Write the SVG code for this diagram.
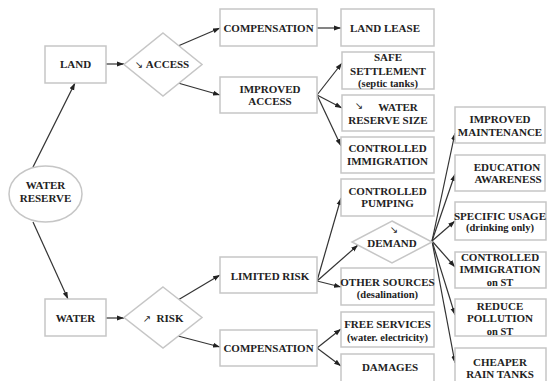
<svg xmlns="http://www.w3.org/2000/svg" width="548" height="381" viewBox="0 0 548 381">
<defs>
<marker id="ah" markerUnits="userSpaceOnUse" markerWidth="8" markerHeight="6" refX="7" refY="3" orient="auto">
<path d="M0,0.5 L7,3 L0,5.5 Z" fill="#222"/>
</marker>
<style>
.b{fill:#fff;stroke:#c6c6c6;stroke-width:1.5}
.t{font-family:"Liberation Serif","Times New Roman",serif;font-weight:bold;font-size:11px;fill:#222;text-anchor:middle}
.s{font-size:10.5px}
.ar{font-family:"DejaVu Sans",sans-serif;font-weight:normal;font-size:10px;fill:#222;text-anchor:middle}
.c line{stroke:#333;stroke-width:1.2;marker-end:url(#ah)}
</style>
</defs>
<rect width="548" height="381" fill="#fff"/>
<g class="c" id="connectors">
<line x1="33" y1="167" x2="75" y2="83"/>
<line x1="33" y1="222" x2="68" y2="299"/>
<line x1="106" y1="64" x2="124" y2="64"/>
<line x1="178" y1="46" x2="220" y2="28"/>
<line x1="178" y1="83" x2="220" y2="95"/>
<line x1="317" y1="28" x2="341" y2="28"/>
<line x1="317" y1="95" x2="342" y2="63"/>
<line x1="317" y1="95" x2="342" y2="108"/>
<line x1="317" y1="95" x2="341" y2="146"/>
<line x1="106" y1="318" x2="124" y2="318"/>
<line x1="178" y1="300" x2="220" y2="275"/>
<line x1="178" y1="336" x2="220" y2="347"/>
<line x1="317" y1="281" x2="341" y2="198"/>
<line x1="317" y1="281" x2="358" y2="245"/>
<line x1="317" y1="281" x2="341" y2="287"/>
<line x1="317" y1="348" x2="341" y2="329"/>
<line x1="317" y1="348" x2="341" y2="366"/>
<line x1="432" y1="241" x2="455" y2="133"/>
<line x1="432" y1="241" x2="455" y2="174"/>
<line x1="432" y1="241" x2="455" y2="221"/>
<line x1="432" y1="241" x2="455" y2="267"/>
<line x1="432" y1="241" x2="455" y2="315"/>
<line x1="432" y1="241" x2="455" y2="363"/>
</g>
<g id="water-reserve"><ellipse class="b" cx="45.5" cy="194" rx="36.5" ry="28"/><text class="t" x="45.5" y="189">WATER</text><text class="t" x="45.5" y="202">RESERVE</text></g>
<g id="land"><rect class="b" x="45" y="46" width="61" height="37"/><text class="t" x="75.5" y="68">LAND</text></g>
<g id="access"><path class="b" d="M163,33 L202,64.5 L163,96 L124,64.5 Z"/><text class="ar" x="139" y="68">↘</text><text class="t" x="167.5" y="68">ACCESS</text></g>
<g id="compensation-1"><rect class="b" x="220" y="9" width="97" height="37"/><text class="t" x="268.5" y="32">COMPENSATION</text></g>
<g id="land-lease"><rect class="b" x="341" y="9" width="93" height="37"/><text class="t" x="385" y="32">LAND LEASE</text></g>
<g id="improved-access"><rect class="b" x="220" y="77" width="97" height="36"/><text class="t" x="270" y="93">IMPROVED</text><text class="t" x="270" y="105">ACCESS</text></g>
<g id="safe-settlement"><rect class="b" x="342" y="52" width="92" height="37"/><text class="t" x="388" y="61">SAFE</text><text class="t" x="388" y="75">SETTLEMENT</text><text class="t s" x="388" y="87">(septic tanks)</text></g>
<g id="water-reserve-size"><rect class="b" x="342" y="95" width="92" height="36"/><text class="ar" x="359" y="109">↘</text><text class="t" x="398" y="111">WATER</text><text class="t" x="388" y="123.5">RESERVE SIZE</text></g>
<g id="controlled-immigration"><rect class="b" x="341" y="137" width="93" height="36"/><text class="t" x="387.5" y="152">CONTROLLED</text><text class="t" x="387.5" y="165">IMMIGRATION</text></g>
<g id="controlled-pumping"><rect class="b" x="341" y="179" width="93" height="37"/><text class="t" x="387.5" y="195">CONTROLLED</text><text class="t" x="387.5" y="207">PUMPING</text></g>
<g id="demand"><path class="b" d="M392,221 L432,242 L392,263 L352,242 Z"/><text class="ar" x="394" y="233">↘</text><text class="t" x="392" y="247">DEMAND</text></g>
<g id="other-sources"><rect class="b" x="341" y="268" width="93" height="37"/><text class="t" x="387.5" y="286">OTHER SOURCES</text><text class="t s" x="387.5" y="298">(desalination)</text></g>
<g id="free-services"><rect class="b" x="341" y="312" width="93" height="35"/><text class="t" x="387.5" y="328">FREE SERVICES</text><text class="t s" x="387.5" y="341">(water. electricity)</text></g>
<g id="damages"><rect class="b" x="341" y="354" width="93" height="40"/><text class="t" x="390" y="371">DAMAGES</text></g>
<g id="water"><rect class="b" x="45" y="299" width="61" height="37"/><text class="t" x="75.5" y="322">WATER</text></g>
<g id="risk"><path class="b" d="M163,287 L202,317.5 L163,348 L124,317.5 Z"/><text class="ar" x="147" y="322">↗</text><text class="t" x="170" y="322">RISK</text></g>
<g id="limited-risk"><rect class="b" x="220" y="257" width="97" height="36"/><text class="t" x="270" y="280">LIMITED RISK</text></g>
<g id="compensation-2"><rect class="b" x="220" y="330" width="97" height="36"/><text class="t" x="268.5" y="352">COMPENSATION</text></g>
<g id="improved-maintenance"><rect class="b" x="455" y="107" width="90" height="36"/><text class="t" x="500" y="123">IMPROVED</text><text class="t" x="500" y="136">MAINTENANCE</text></g>
<g id="education-awareness"><rect class="b" x="455" y="155" width="90" height="36"/><text class="t" x="507" y="171">EDUCATION</text><text class="t" x="508" y="183">AWARENESS</text></g>
<g id="specific-usage"><rect class="b" x="455" y="202" width="91" height="38"/><text class="t" x="500" y="220">SPECIFIC USAGE</text><text class="t s" x="500" y="231">(drinking only)</text></g>
<g id="controlled-immigration-st"><rect class="b" x="455" y="252" width="91" height="36"/><text class="t" x="500" y="261">CONTROLLED</text><text class="t" x="500" y="273">IMMIGRATION</text><text class="t s" x="500" y="286">on ST</text></g>
<g id="reduce-pollution"><rect class="b" x="455" y="299" width="91" height="37"/><text class="t" x="500" y="310">REDUCE</text><text class="t" x="500" y="322">POLLUTION</text><text class="t s" x="500" y="335">on ST</text></g>
<g id="cheaper-rain-tanks"><rect class="b" x="455" y="348" width="91" height="40"/><text class="t" x="500" y="366">CHEAPER</text><text class="t" x="500" y="378">RAIN TANKS</text></g>
</svg>
